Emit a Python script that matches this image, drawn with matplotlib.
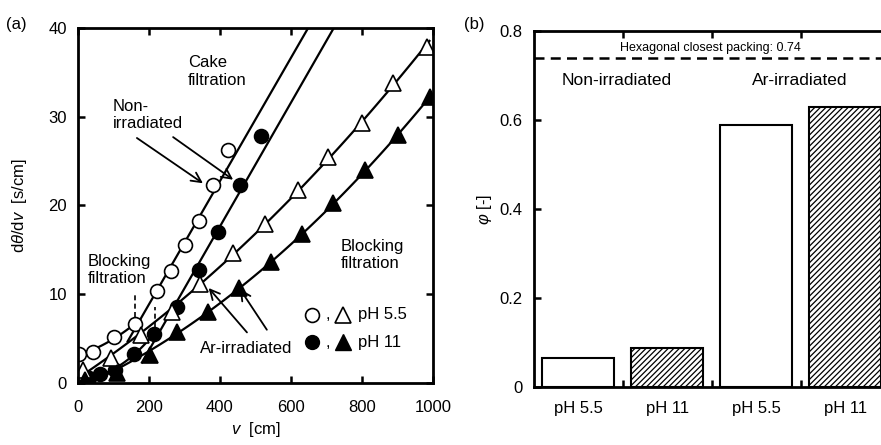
import numpy as np
import matplotlib
matplotlib.use('Agg')
import matplotlib.pyplot as plt

plt.rcParams['font.family'] = ['Liberation Sans', 'DejaVu Sans']
plt.rcParams['mathtext.fontset'] = 'custom'
plt.rcParams['mathtext.rm'] = 'Liberation Sans'
plt.rcParams['mathtext.it'] = 'Liberation Sans:italic'
plt.rcParams['hatch.linewidth'] = 0.9

# (a) 濾過データ v [cm] と dθ/dv [s/cm]
v_non_55 = [3, 42, 101, 160, 222, 262, 301, 341, 381, 423]
y_non_55 = [3.3, 3.5, 5.2, 6.6, 10.4, 12.6, 15.5, 18.2, 22.3, 26.2]
v_non_11 = [30, 62, 105, 157, 214, 278, 340, 395, 456, 515]
y_non_11 = [0.6, 1.0, 1.5, 3.3, 5.5, 8.6, 12.7, 17.0, 22.3, 27.8]
v_ar_55 = [15, 93, 177, 264, 343, 437, 527, 620, 705, 800, 888, 983]
y_ar_55 = [1.5, 2.8, 5.4, 8.0, 11.2, 14.6, 17.9, 21.7, 25.5, 29.3, 33.8, 37.9]
v_ar_11 = [20, 110, 203, 279, 365, 453, 544, 630, 719, 808, 902, 992]
y_ar_11 = [0.3, 1.1, 3.2, 5.8, 8.0, 10.7, 13.6, 16.8, 20.3, 24.0, 27.9, 32.2]

# 閉塞濾過 → ケーク濾過 の切り替わり点（インデックス）
blk_55, cake_55 = slice(0, 4), slice(3, 9)
blk_11, cake_11 = slice(0, 5), slice(4, 9)
v_switch = [160, 217]

# (b) 充填率
groups = ['Non-irradiated', 'Ar-irradiated']
bar_labels = ['pH 5.5', 'pH 11', 'pH 5.5', 'pH 11']
phi = [0.065, 0.088, 0.589, 0.629]
hcp = 0.74

fig = plt.figure(figsize=(8.81, 4.45), dpi=100)
ax = fig.add_axes([0.0885, 0.1393, 0.403, 0.798])
bx = fig.add_axes([0.606, 0.130, 0.404, 0.80])

# ── (a) ──────────────────────────────
lw = 1.6
v_non_55, y_non_55 = np.array(v_non_55), np.array(y_non_55)
v_non_11, y_non_11 = np.array(v_non_11), np.array(y_non_11)

p = np.polyfit(v_non_55[blk_55], y_non_55[blk_55], 2)
vv = np.linspace(0, 175, 50)
ax.plot(vv, np.polyval(p, vv), 'k-', lw=lw)
p = np.polyfit(v_non_55[cake_55], y_non_55[cake_55], 1)
vv = np.linspace(140, (40 - p[1]) / p[0], 2)
ax.plot(vv, np.polyval(p, vv), 'k-', lw=lw)

p = np.polyfit(v_non_11[blk_11], y_non_11[blk_11], 2)
vv = np.linspace(40, 225, 50)
ax.plot(vv, np.polyval(p, vv), 'k-', lw=lw)
p = np.polyfit(v_non_11[cake_11], y_non_11[cake_11], 1)
vv = np.linspace(180, (40 - p[1]) / p[0], 2)
ax.plot(vv, np.polyval(p, vv), 'k-', lw=lw)

p = np.polyfit(v_ar_55, y_ar_55, 2)
vv = np.linspace(0, 990, 100)
ax.plot(vv, np.polyval(p, vv), 'k-', lw=lw)
p = np.polyfit(v_ar_11, y_ar_11, 2)
vv = np.linspace(40, 995, 100)
ax.plot(vv, np.clip(np.polyval(p, vv), 0, None), 'k-', lw=lw)

ms = 10
ax.plot(v_non_55, y_non_55, 'o', ms=ms, mfc='white', mec='black', mew=1.2, ls='none')
ax.plot(v_non_11, y_non_11, 'o', ms=ms, mfc='black', mec='black', mew=1.2, ls='none')
ax.plot(v_ar_55, y_ar_55, '^', ms=ms + 1, mfc='white', mec='black', mew=1.2, ls='none')
ax.plot(v_ar_11, y_ar_11, '^', ms=ms + 1, mfc='black', mec='black', mew=1.2, ls='none')

# 切り替わり点の破線
ax.plot([v_switch[0]] * 2, [7.4, 10.1], 'k--', lw=1.2, dashes=(3, 2))
ax.plot([v_switch[1]] * 2, [6.3, 8.6], 'k--', lw=1.2, dashes=(3, 2))

arr = dict(arrowstyle='->,head_length=0.7,head_width=0.35', lw=1.3, color='black',
           shrinkA=0, shrinkB=0)
ax.annotate('', xy=(352, 22.5), xytext=(166, 27.6), arrowprops=arr)
ax.annotate('', xy=(437, 22.9), xytext=(268, 27.7), arrowprops=arr)
ax.annotate('', xy=(368, 10.7), xytext=(476, 5.7), arrowprops=arr)
ax.annotate('', xy=(456, 10.6), xytext=(532, 6.0), arrowprops=arr)

fs = 12
ax.text(99, 30.2, 'Non-\nirradiated', fontsize=fs, va='center', ha='left')
ax.text(310, 35.1, 'Cake\nfiltration', fontsize=fs, va='center', ha='left')
ax.text(27, 12.7, 'Blocking\nfiltration', fontsize=fs, va='center', ha='left')
ax.text(741, 14.4, 'Blocking\nfiltration', fontsize=fs, va='center', ha='left')
ax.text(344, 3.9, 'Ar-irradiated', fontsize=fs, va='center', ha='left')

# 凡例（手描き）
ax.plot([660], [7.7], 'o', ms=ms, mfc='white', mec='black', mew=1.2)
ax.plot([746], [7.7], '^', ms=ms + 1, mfc='white', mec='black', mew=1.2)
ax.plot([660], [4.6], 'o', ms=ms, mfc='black', mec='black')
ax.plot([746], [4.6], '^', ms=ms + 1, mfc='black', mec='black')
ax.text(703, 7.7, ',', fontsize=fs, ha='center', va='center')
ax.text(703, 4.6, ',', fontsize=fs, ha='center', va='center')
ax.text(790, 7.7, 'pH 5.5', fontsize=fs, ha='left', va='center')
ax.text(790, 4.6, 'pH 11', fontsize=fs, ha='left', va='center')

ax.set_xlim(0, 1000)
ax.set_ylim(0, 40)
ax.set_xticks(range(0, 1001, 200))
ax.set_yticks(range(0, 41, 10))
ax.tick_params(direction='in', top=True, right=True, length=5, width=1.8,
               labelsize=fs, pad=8)
ax.tick_params(axis='x', pad=12)
for s in ax.spines.values():
    s.set_linewidth(2)
ax.set_xlabel(r'$v$  [cm]', fontsize=fs, labelpad=4)
ax.set_ylabel(r'd$\theta$/d$v$  [s/cm]', fontsize=fs, labelpad=14)
fig.text(0.018, 0.944, '(a)', fontsize=fs, va='center', ha='center')

# ── (b) ──────────────────────────────
x = np.arange(len(phi))
hatches = ['', '//////', '', '//////']
for xi, val, h in zip(x, phi, hatches):
    bx.bar(xi, val, width=0.81, color='white', edgecolor='black', lw=1.5, hatch=h)
bx.axhline(hcp, color='black', ls='--', lw=1.8, dashes=(4, 2.5))
bx.text(1.48, 0.762, 'Hexagonal closest packing: %.2f' % hcp, fontsize=9,
        ha='center', va='center')
bx.text(0.43, 0.69, groups[0], fontsize=12.5, ha='center', va='center')
bx.text(2.49, 0.69, groups[1], fontsize=12.5, ha='center', va='center')

bx.set_xlim(-0.5, 3.5)
bx.set_ylim(0, 0.8)
bx.set_yticks([0, 0.2, 0.4, 0.6, 0.8])
bx.set_yticklabels(['0', '0.2', '0.4', '0.6', '0.8'])
bx.set_xticks(x)
bx.set_xticklabels(bar_labels)
bx.set_xticks([0.5, 1.5, 2.5], minor=True)
bx.tick_params(axis='x', which='major', length=0, labelsize=fs, pad=10)
bx.tick_params(axis='x', which='minor', direction='in', top=True, length=5, width=1.8)
bx.tick_params(axis='y', direction='in', length=5, width=1.8, labelsize=fs, pad=8)
for s in bx.spines.values():
    s.set_linewidth(2)
bx.set_ylabel(r'$\varphi$ [-]', fontsize=fs, labelpad=4)
fig.text(0.538, 0.944, '(b)', fontsize=fs, va='center', ha='center')

fig.savefig('out.png', dpi=100)
